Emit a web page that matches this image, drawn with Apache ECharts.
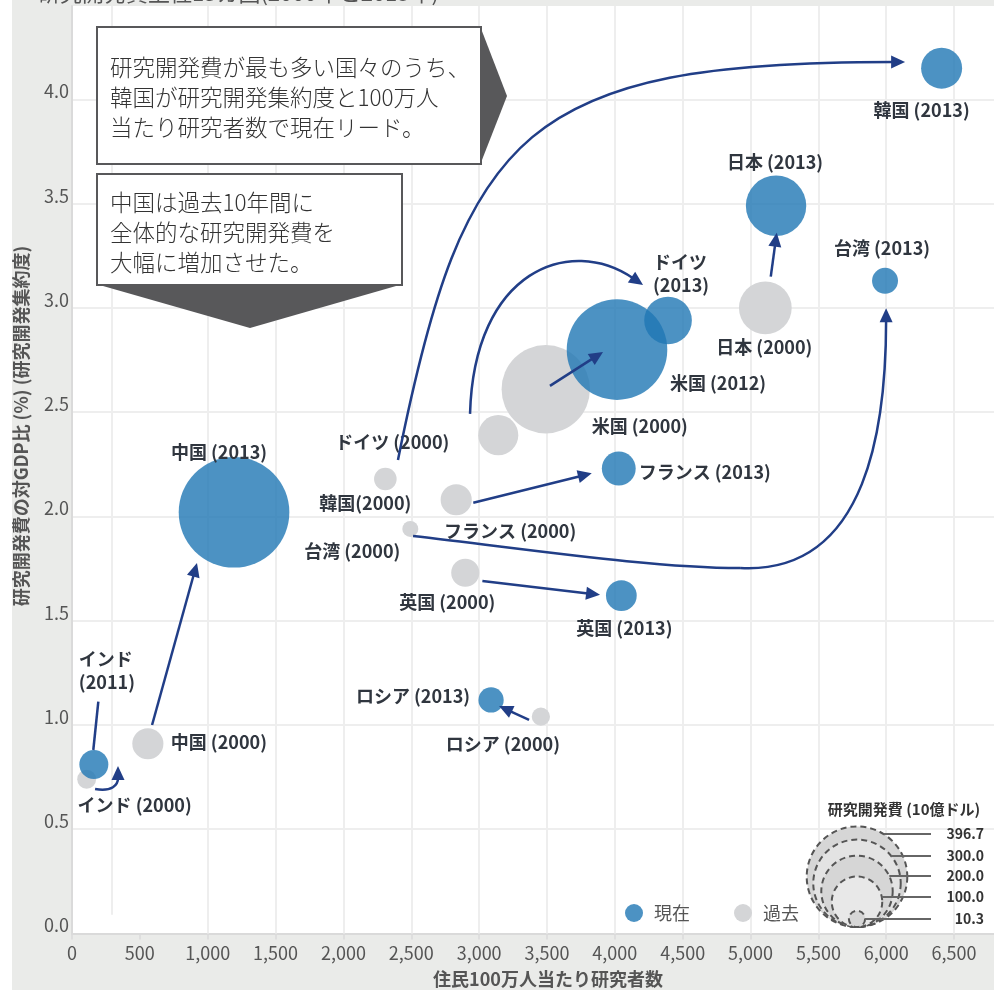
<!DOCTYPE html>
<html lang="ja">
<head>
<meta charset="utf-8">
<title>研究開発費上位15カ国</title>
<script src="https://cdn.jsdelivr.net/npm/echarts@6/dist/echarts.min.js"></script>
<style>
html,body{margin:0;padding:0;background:#fff;}
#chart{width:994px;height:990px;}
</style>
</head>
<body>
<div id="chart"></div>
<script>
// 現在（2011〜2013年）
const labelsNow = ['韓国 (2013)', '日本 (2013)', '台湾 (2013)', 'ドイツ\n(2013)', '米国 (2012)', 'フランス (2013)', '英国 (2013)', 'ロシア (2013)', '中国 (2013)', 'インド\n(2011)'];
const researchersNow = [6408, 5188, 5991, 4392, 4016, 4029, 4048, 3088, 1194, 161];
const intensityNow = [4.15, 3.49, 3.13, 2.94, 2.80, 2.23, 1.62, 1.12, 2.02, 0.81];
const spendingNow = [66, 143, 26.5, 89, 396.7, 45, 37, 25, 480, 33];

// 過去（2000年）
const labelsPast = ['韓国(2000)', '日本 (2000)', '台湾 (2000)', 'ドイツ (2000)', '米国 (2000)', 'フランス (2000)', '英国 (2000)', 'ロシア (2000)', '中国 (2000)', 'インド (2000)'];
const researchersPast = [2309, 5109, 2493, 3141, 3491, 2831, 2898, 3455, 559, 108];
const intensityPast = [2.18, 3.00, 1.94, 2.39, 2.61, 2.08, 1.73, 1.04, 0.91, 0.74];
const spendingPast = [20, 109, 10, 63, 306, 38, 31, 13, 38, 14];

// バブルサイズ凡例（10億ドル）
const sizeLegendValues = [396.7, 300.0, 200.0, 100.0, 10.3];

// 軸
const xTickStep = 500;
const yTickStep = 0.5;
const xGridValues = [1000, 1500, 2000, 2500, 3000, 3500, 4000, 4500, 5000, 5500, 6000, 6500];

// 2000年→現在の移動を示す矢印（データ座標; 3次ベジェ区間 [始点, 制御点1, 制御点2, 終点] または直線 [始点, 終点]）
const arrowPaths = [
  { head: true, segs: [[[2402, 2.271], [2889, 3.854], [3338, 4.180], [6139, 4.180]]] },
  { head: true, segs: [[[2933, 2.492], [2962, 3.182], [3670, 3.350], [4208, 3.110]]] },
  { head: true, segs: [
      [[2513, 1.906], [3301, 1.849], [4259, 1.753], [4923, 1.753]],
      [[4923, 1.753], [5881, 1.719], [5999, 2.463], [5999, 2.998]]
  ] },
  { head: true, segs: [[[170, 0.693], [295, 0.679], [339, 0.712], [339, 0.803]]] },
  { head: false, segs: [[[194, 1.112], [157, 0.880]]] },
  { head: true, segs: [[[590, 1.0], [921, 1.777]]] },
  { head: true, segs: [[[3522, 2.626], [3913, 2.789]]] },
  { head: true, segs: [[[5149, 3.150], [5193, 3.361]]] },
  { head: true, segs: [[[2957, 2.066], [3830, 2.207]]] },
  { head: true, segs: [[[3024, 1.691], [3891, 1.624]]] },
  { head: true, segs: [[[3368, 1.024], [3147, 1.091]]] }
];

// ラベルの配置（バブル中心からのずれ, px）
const labelLayoutNow = [
  { dx: -20, dy: 42 }, { dx: -1, dy: -44 }, { dx: -3, dy: -33 }, { dx: -15, dy: -47, align: 'left' },
  { dx: 101, dy: 34 }, { dx: 86, dy: 4 }, { dx: 3, dy: 32 }, { dx: -78, dy: -4 },
  { dx: -15, dy: -60 }, { dx: -15, dy: -94, align: 'left' }
];
const labelLayoutPast = [
  { dx: -20, dy: 24 }, { dx: -1, dy: 39 }, { dx: -58, dy: 22 }, { dx: -106, dy: 7 },
  { dx: 94, dy: 37 }, { dx: 54, dy: 31 }, { dx: -18, dy: 29 }, { dx: -38, dy: 28 },
  { dx: 71, dy: -2 }, { dx: 48, dy: 26 }
];

const FONT = '"Noto Sans CJK JP", "Noto Sans", sans-serif';
const ARROW = '#213e87';
const bubbleDiameter = v => 5.05 * Math.sqrt(v);

function buildPoints(xs, ys, sizes, names, layout) {
  return xs.map((x, i) => ({
    value: [x, ys[i], sizes[i]],
    name: names[i],
    label: {
      offset: [layout[i].dx, layout[i].dy],
      align: layout[i].align || 'center'
    }
  }));
}

const bubbleLabel = {
  show: true,
  position: 'inside',
  formatter: '{b}',
  fontFamily: FONT,
  fontSize: 18,
  fontWeight: 'bold',
  color: '#30363f',
  opacity: 1,
  lineHeight: 23
};

const chart = echarts.init(document.getElementById('chart'), null, { renderer: 'canvas' });

// 注釈ボックスなどの装飾
const graphics = [];
graphics.push({ type: 'rect', shape: { x: 0, y: 0, width: 12, height: 990 }, style: { fill: '#ffffff' }, z: 0 });
graphics.push({
  type: 'text', x: 38, y: -7, z: 10,
  style: { text: '研究開発費上位15カ国(2000年と2013年)', font: '22px ' + FONT, fill: '#555', verticalAlign: 'middle' }
});
// 吹き出し1
graphics.push({ type: 'polygon', z: 20, shape: { points: [[480, 26], [507, 96], [480, 165]] }, style: { fill: '#58585a' } });
graphics.push({ type: 'rect', z: 21, shape: { x: 97, y: 27, width: 384, height: 137 }, style: { fill: '#fff', stroke: '#58585a', lineWidth: 2 } });
graphics.push({
  type: 'text', z: 22, x: 110, y: 52,
  style: { text: '研究開発費が最も多い国々のうち、\n韓国が研究開発集約度と100万人\n当たり研究者数で現在リード。', font: '300 22.5px ' + FONT, fill: '#333', lineHeight: 30 }
});
// 吹き出し2
graphics.push({ type: 'polygon', z: 20, shape: { points: [[96, 284], [403, 284], [250, 328]] }, style: { fill: '#58585a' } });
graphics.push({ type: 'rect', z: 21, shape: { x: 97, y: 174, width: 305, height: 111 }, style: { fill: '#fff', stroke: '#58585a', lineWidth: 2 } });
graphics.push({
  type: 'text', z: 22, x: 110, y: 187,
  style: { text: '中国は過去10年間に\n全体的な研究開発費を\n大幅に増加させた。', font: '300 22.5px ' + FONT, fill: '#333', lineHeight: 30 }
});
// 軸タイトル
graphics.push({
  type: 'text', z: 10, x: 21, y: 426, rotation: Math.PI / 2,
  style: { text: '研究開発費の対GDP比 (%) (研究開発集約度)', font: 'bold 18px ' + FONT, fill: '#555', align: 'center', verticalAlign: 'middle' }
});
graphics.push({
  type: 'text', z: 10, x: 548, y: 979,
  style: { text: '住民100万人当たり研究者数', font: 'bold 18px ' + FONT, fill: '#555', align: 'center', verticalAlign: 'middle' }
});
// バブルサイズ凡例
graphics.push({
  type: 'text', z: 10, x: 904, y: 809,
  style: { text: '研究開発費 (10億ドル)', font: 'bold 15px ' + FONT, fill: '#333', align: 'center', verticalAlign: 'middle' }
});
const legendCx = 857, legendBottom = 927;
const legendLabelY = [834, 856, 876, 897, 919];
const legendFills = ['#d6d6d6', '#e3e3e3', '#d6d6d6', '#e8e8e8', '#d6d6d6'];
sizeLegendValues.forEach((v, i) => {
  const r = bubbleDiameter(v) / 2;
  const cy = legendBottom - r;
  graphics.push({ type: 'circle', z: 10 + i, shape: { cx: legendCx, cy: cy, r: r }, style: { fill: legendFills[i], stroke: '#555', lineWidth: 2, lineDash: [6, 4] } });
  const ly = legendLabelY[i];
  const d = Math.abs(ly - cy);
  const sx = d < r ? legendCx + Math.sqrt(r * r - d * d) : legendCx + r;
  graphics.push({ type: 'line', z: 20, shape: { x1: sx, y1: ly, x2: 931, y2: ly }, style: { stroke: '#666', lineWidth: 2 } });
  graphics.push({
    type: 'text', z: 20, x: 984, y: ly,
    style: { text: v.toFixed(1), font: 'bold 14px ' + FONT, fill: '#333', align: 'right', verticalAlign: 'middle' }
  });
});

function renderArrow(params, api) {
  const path = arrowPaths[api.value(2)];
  const segs = path.segs.map(seg => seg.map(p => api.coord(p)));
  const children = [];
  const last = segs[segs.length - 1];
  if (path.head) {
    const tip = last[last.length - 1];
    const prev = last[last.length - 2];
    let dx = tip[0] - prev[0], dy = tip[1] - prev[1];
    const len = Math.sqrt(dx * dx + dy * dy) || 1;
    dx /= len; dy /= len;
    const hl = 14, hw = 6.5;
    const bx = tip[0] - dx * hl, by = tip[1] - dy * hl;
    children.push({
      type: 'polygon',
      shape: { points: [tip, [bx - dy * hw, by + dx * hw], [bx + dy * hw, by - dx * hw]] },
      style: { fill: ARROW }
    });
    last[last.length - 1] = [bx + dx * 2, by + dy * 2];
  }
  segs.forEach(s => {
    if (s.length === 4) {
      children.unshift({
        type: 'bezierCurve',
        shape: { x1: s[0][0], y1: s[0][1], cpx1: s[1][0], cpy1: s[1][1], cpx2: s[2][0], cpy2: s[2][1], x2: s[3][0], y2: s[3][1] },
        style: { stroke: ARROW, lineWidth: 2.5, fill: null }
      });
    } else {
      children.unshift({
        type: 'line',
        shape: { x1: s[0][0], y1: s[0][1], x2: s[1][0], y2: s[1][1] },
        style: { stroke: ARROW, lineWidth: 2.5 }
      });
    }
  });
  return { type: 'group', children: children };
}

const option = {
  backgroundColor: '#eaebe9',
  animation: false,
  textStyle: { fontFamily: FONT },
  grid: { left: 72, top: 6, right: 0, bottom: 56.5, show: true, backgroundColor: '#ffffff', borderWidth: 0 },
  legend: {
    data: ['現在', '過去'],
    left: 620, top: 899,
    icon: 'circle',
    itemWidth: 18, itemHeight: 18, itemGap: 44,
    textStyle: { fontSize: 18, color: '#555', fontFamily: FONT, padding: [0, 0, 0, 6] },
    selectedMode: false
  },
  xAxis: {
    type: 'value', min: 0, max: 6794, interval: xTickStep,
    axisLine: { show: true, lineStyle: { color: '#dadada', width: 2 } },
    axisTick: { show: true, length: 6, lineStyle: { color: '#dadada', width: 1.5 } },
    axisLabel: {
      showMaxLabel: false, margin: 11, fontSize: 18, color: '#555', fontFamily: FONT,
      formatter: v => v.toLocaleString('en-US')
    },
    splitLine: { show: false }
  },
  yAxis: {
    type: 'value', min: 0, max: 4.448, interval: yTickStep,
    axisLine: { show: true, lineStyle: { color: '#dadada', width: 2 } },
    axisTick: { show: false },
    axisLabel: {
      showMaxLabel: false, margin: 3, fontSize: 18, color: '#555', fontFamily: FONT,
      verticalAlign: 'bottom', lineHeight: 16,
      formatter: v => v.toFixed(1)
    },
    splitLine: { show: true, showMaxLine: false, lineStyle: { color: '#eeeeee', width: 2 } }
  },
  series: [
    {
      name: 'grid', type: 'scatter', data: [], z: 1, silent: true,
      markLine: {
        z: 1, silent: true, symbol: 'none', label: { show: false },
        lineStyle: { color: '#eeeeee', width: 2, type: 'solid' },
        emphasis: { disabled: true },
        data: [[{ coord: [295, 0.09] }, { coord: [295, 4.448] }]].concat(xGridValues.map(v => [{ coord: [v, 0] }, { coord: [v, 4.448] }]))
      }
    },
    {
      name: '過去', type: 'scatter', z: 2,
      data: buildPoints(researchersPast, intensityPast, spendingPast, labelsPast, labelLayoutPast),
      symbolSize: val => bubbleDiameter(val[2]),
      itemStyle: { color: '#d4d5d7', opacity: 1 },
      label: bubbleLabel,
      emphasis: { disabled: true }
    },
    {
      name: '現在', type: 'scatter', z: 3,
      data: buildPoints(researchersNow, intensityNow, spendingNow, labelsNow, labelLayoutNow),
      symbolSize: val => bubbleDiameter(val[2]),
      itemStyle: { color: 'rgba(31,119,180,0.8)', opacity: 1 },
      label: bubbleLabel,
      emphasis: { disabled: true }
    },
    {
      name: 'arrows', type: 'custom', coordinateSystem: 'cartesian2d', z: 6, silent: true, clip: false,
      data: arrowPaths.map((p, i) => [p.segs[0][0][0], p.segs[0][0][1], i]),
      encode: { x: 0, y: 1 },
      renderItem: renderArrow
    }
  ],
  graphic: graphics
};

chart.setOption(option);
</script>
</body>
</html>
